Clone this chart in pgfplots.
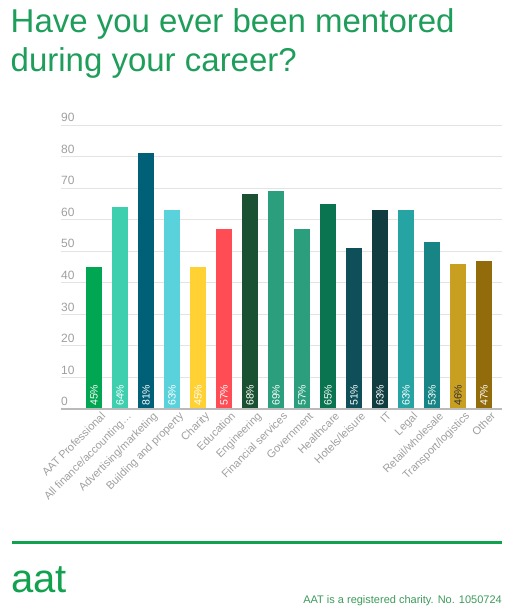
\documentclass[border=0pt]{standalone}
\usepackage{fontspec}
\setmainfont{Liberation Sans}
\usepackage{pgfplots}
\pgfplotsset{compat=1.18}
\definecolor{titlegreen}{RGB}{30,158,90}
\definecolor{linegreen}{RGB}{18,161,78}
\definecolor{footgreen}{RGB}{60,155,90}
\definecolor{c1}{RGB}{0,166,81}
\definecolor{c2}{RGB}{62,207,175}
\definecolor{c3}{RGB}{0,96,120}
\definecolor{c4}{RGB}{90,210,220}
\definecolor{c5}{RGB}{255,209,51}
\definecolor{c6}{RGB}{255,76,85}
\definecolor{c7}{RGB}{27,81,51}
\definecolor{c8}{RGB}{42,158,125}
\definecolor{c9}{RGB}{42,158,125}
\definecolor{c10}{RGB}{10,115,80}
\definecolor{c11}{RGB}{14,79,90}
\definecolor{c12}{RGB}{17,61,64}
\definecolor{c13}{RGB}{38,164,164}
\definecolor{c14}{RGB}{23,133,133}
\definecolor{c15}{RGB}{200,159,32}
\definecolor{c16}{RGB}{146,107,10}
\begin{document}
\begin{tikzpicture}
\path[use as bounding box] (0pt,0pt) rectangle (516pt,-615pt);
\node[anchor=base west, inner sep=0pt, text=titlegreen, font=\fontsize{33}{39}\selectfont] at (10.5pt,-33pt) {Have you ever been mentored};
\node[anchor=base west, inner sep=0pt, text=titlegreen, font=\fontsize{33}{39}\selectfont] at (10.5pt,-72pt) {during your career?};
\begin{axis}[
  at={(61pt,-409pt)}, anchor=south west,
  scale only axis, width=441pt, height=284pt,
  xmin=-1.27, xmax=15.69, ymin=0, ymax=90,
  clip=false,
  /pgf/number format/assume math mode=true,
  axis line style={draw=none},
  ymajorgrids, grid style={gray!22, line width=0.8pt},
  ytick={0,10,...,90},
  major tick length=0pt,
  yticklabel style={anchor=south west, inner sep=0pt, yshift=3pt, text=gray!75, font=\fontsize{12}{14}\selectfont},
  xtick={0,...,15},
  xticklabels={AAT Professional, All finance/accounting…, Advertising/marketing, Building and property, Charity, Education, Engineering, Financial services, Government, Healthcare, Hotels/leisure, IT, Legal, Retail/wholesale, Transport/logistics, Other},
  xticklabel style={rotate=45, anchor=north east, inner sep=0pt, xshift=3pt, yshift=-6pt, text=gray!75, font=\fontsize{11}{13}\selectfont},
]
\addplot[ybar, bar width=16pt, bar shift=0pt, fill=c1, draw=none] coordinates {(0,45)};
\addplot[ybar, bar width=16pt, bar shift=0pt, fill=c2, draw=none] coordinates {(1,64)};
\addplot[ybar, bar width=16pt, bar shift=0pt, fill=c3, draw=none] coordinates {(2,81)};
\addplot[ybar, bar width=16pt, bar shift=0pt, fill=c4, draw=none] coordinates {(3,63)};
\addplot[ybar, bar width=16pt, bar shift=0pt, fill=c5, draw=none] coordinates {(4,45)};
\addplot[ybar, bar width=16pt, bar shift=0pt, fill=c6, draw=none] coordinates {(5,57)};
\addplot[ybar, bar width=16pt, bar shift=0pt, fill=c7, draw=none] coordinates {(6,68)};
\addplot[ybar, bar width=16pt, bar shift=0pt, fill=c8, draw=none] coordinates {(7,69)};
\addplot[ybar, bar width=16pt, bar shift=0pt, fill=c9, draw=none] coordinates {(8,57)};
\addplot[ybar, bar width=16pt, bar shift=0pt, fill=c10, draw=none] coordinates {(9,65)};
\addplot[ybar, bar width=16pt, bar shift=0pt, fill=c11, draw=none] coordinates {(10,51)};
\addplot[ybar, bar width=16pt, bar shift=0pt, fill=c12, draw=none] coordinates {(11,63)};
\addplot[ybar, bar width=16pt, bar shift=0pt, fill=c13, draw=none] coordinates {(12,63)};
\addplot[ybar, bar width=16pt, bar shift=0pt, fill=c14, draw=none] coordinates {(13,53)};
\addplot[ybar, bar width=16pt, bar shift=0pt, fill=c15, draw=none] coordinates {(14,46)};
\addplot[ybar, bar width=16pt, bar shift=0pt, fill=c16, draw=none] coordinates {(15,47)};
\draw[line width=2.5pt, gray!110!black!60] (rel axis cs:0,0) -- (rel axis cs:1,0);
\addplot[draw=none, mark=none, point meta=explicit,
  nodes near coords={\pgfmathprintnumber{\pgfplotspointmeta}\%},
  every node near coord/.style={rotate=90, anchor=west, inner sep=0pt, xshift=3pt, text=white, font=\fontsize{10.5}{12}\selectfont}]
  coordinates {(0,0)[45] (1,0)[64] (2,0)[81] (3,0)[63] (4,0)[45] (5,0)[57] (6,0)[68] (7,0)[69] (8,0)[57] (9,0)[65] (10,0)[51] (11,0)[63] (12,0)[63] (13,0)[53] (15,0)[47]};
\addplot[draw=none, mark=none, point meta=explicit,
  nodes near coords={\pgfmathprintnumber{\pgfplotspointmeta}\%},
  every node near coord/.style={rotate=90, anchor=west, inner sep=0pt, xshift=3pt, text=black!80, font=\fontsize{10.5}{12}\selectfont}]
  coordinates {(14,0)[46]};
\end{axis}
\draw[linegreen, line width=3pt] (12pt,-542pt) -- (502pt,-542pt);
\node[anchor=base west, inner sep=0pt, text=linegreen, font=\fontsize{40}{44}\selectfont] at (11pt,-592pt) {aat};
\node[anchor=base east, inner sep=0pt, text=footgreen, font=\fontsize{11}{13}\selectfont] at (502pt,-603pt) {AAT is a registered charity. No. 1050724};
\end{tikzpicture}
\end{document}
